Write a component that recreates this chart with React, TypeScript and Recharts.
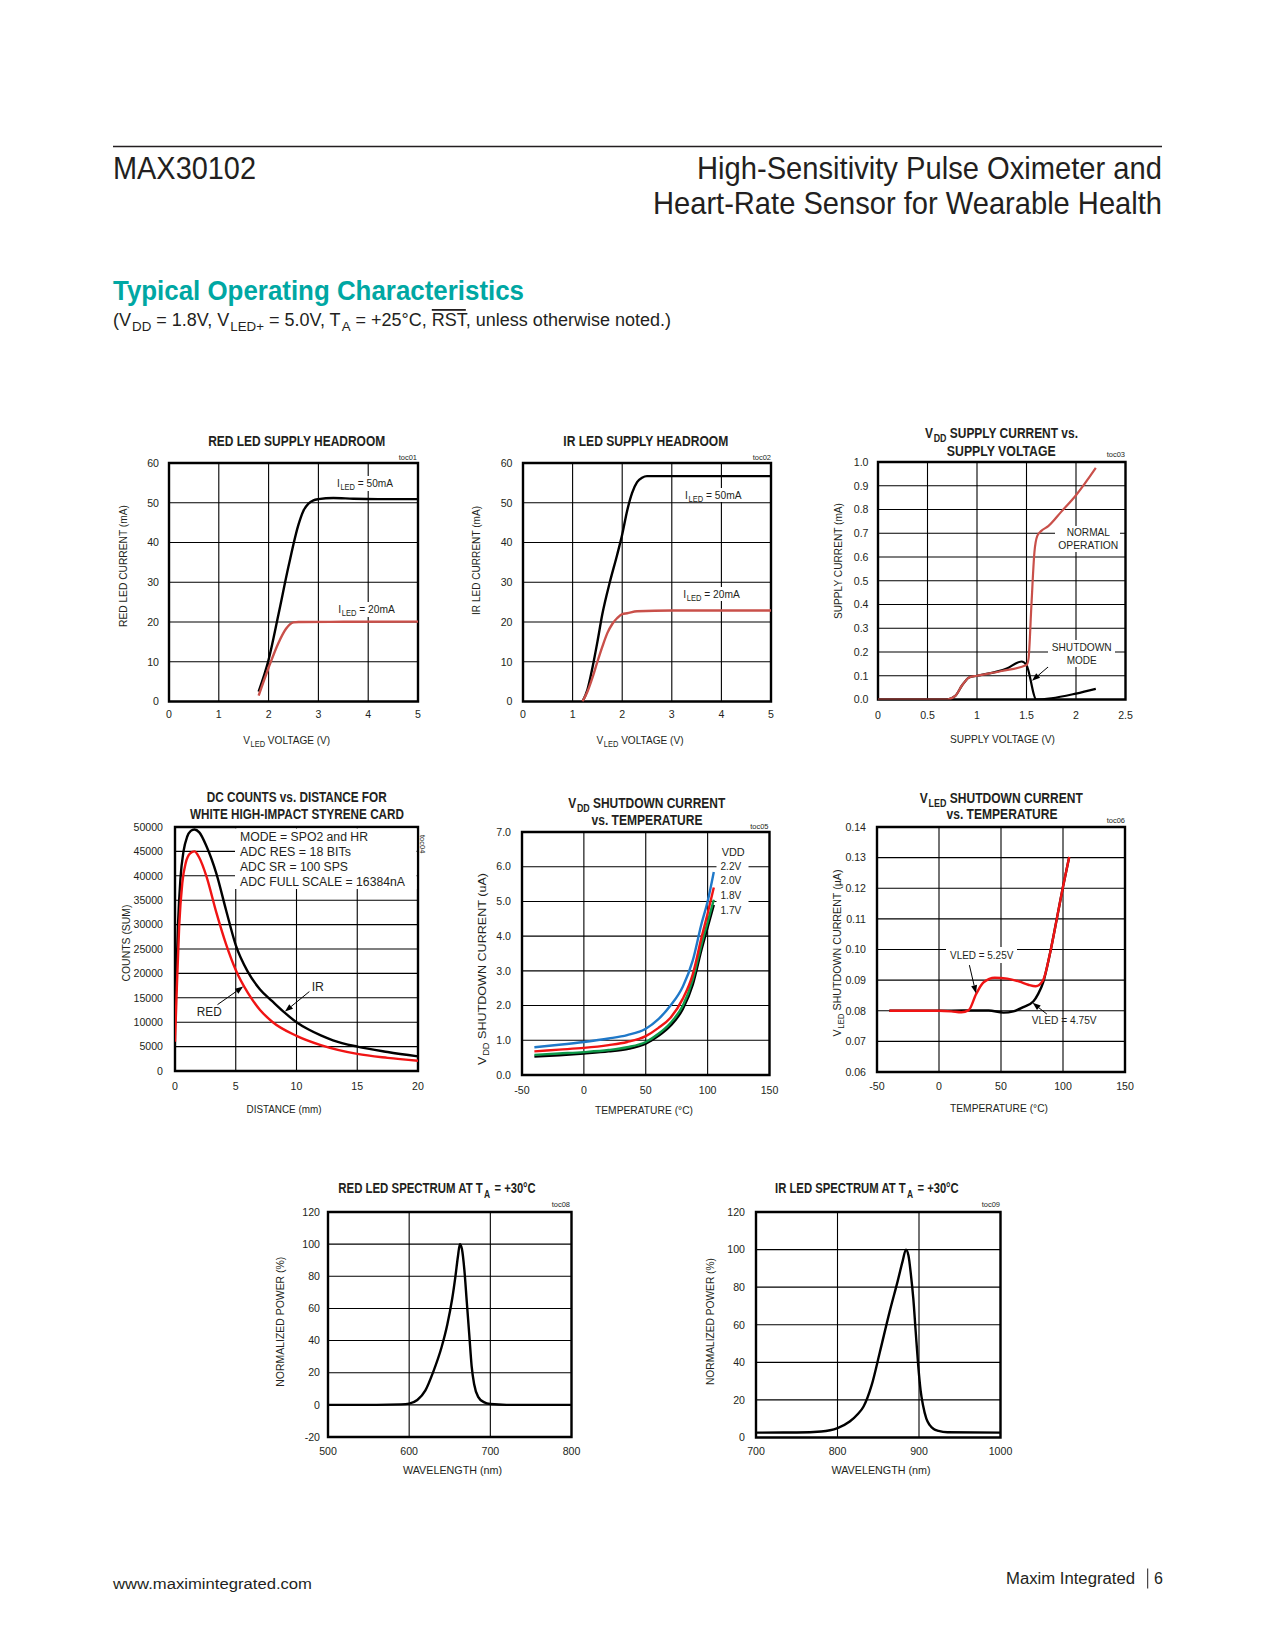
import React from 'react';
import { LineChart, Line, XAxis, YAxis, CartesianGrid, ReferenceArea, ReferenceLine } from 'recharts';

type P = [number, number];
type Box = { l: number; t: number; r: number; b: number };

const INK = '#231f20';
const FONT = '"Liberation Sans", Arial, Helvetica, sans-serif';
const TEAL = '#00a7a3';
const MUTED_RED = '#c9504a';
const RED = '#f01414';
const BLUE = '#1f78c8';
const GREEN = '#0f9a4a';

// toc01 / toc02 : LED supply headroom
const HEADROOM_X_TICKS = [0, 1, 2, 3, 4, 5];
const HEADROOM_Y_TICKS = [0, 10, 20, 30, 40, 50, 60];
const RED_HEADROOM_50MA: P[] = [
  [1.8, 2.5], [2.0, 10.5], [2.2, 22], [2.4, 34], [2.6, 44.5], [2.7, 48], [2.8, 49.8],
  [2.9, 50.6], [3.0, 50.9], [3.3, 51.2], [3.7, 51], [4.2, 50.9], [5, 50.9],
];
const RED_HEADROOM_20MA: P[] = [
  [1.8, 1.5], [2.0, 8.5], [2.2, 14.8], [2.35, 18.3], [2.5, 19.9], [2.6, 20], [3.5, 20.05], [5, 20.1],
];
const IR_HEADROOM_50MA: P[] = [
  [1.2, 0], [1.3, 3], [1.4, 8.5], [1.5, 15], [1.6, 22], [1.75, 30], [1.9, 37], [2.0, 42],
  [2.1, 48], [2.2, 52.5], [2.3, 55.2], [2.4, 56.3], [2.5, 56.7], [3.5, 56.7], [5, 56.7],
];
const IR_HEADROOM_20MA: P[] = [
  [1.2, 0], [1.3, 2.5], [1.4, 6], [1.5, 10], [1.6, 13.8], [1.7, 17.2], [1.8, 19.5], [1.9, 21],
  [2.0, 22], [2.1, 22.2], [2.3, 22.7], [3, 22.9], [5, 22.9],
];

// toc03 : VDD supply current vs supply voltage
const SUPPLY_X_TICKS = [0, 0.5, 1, 1.5, 2, 2.5];
const SUPPLY_Y_TICKS = [0, 0.1, 0.2, 0.3, 0.4, 0.5, 0.6, 0.7, 0.8, 0.9, 1.0];
const SUPPLY_NORMAL: P[] = [
  [0, 0], [0.7, 0], [0.78, 0.015], [0.85, 0.06], [0.92, 0.093], [1.0, 0.1], [1.25, 0.12],
  [1.5, 0.145], [1.52, 0.17], [1.55, 0.4], [1.58, 0.62], [1.61, 0.69], [1.65, 0.71],
  [1.72, 0.73], [1.85, 0.79], [2.0, 0.86], [2.2, 0.975],
];
const SUPPLY_SHUTDOWN: P[] = [
  [0, 0], [0.7, 0], [0.78, 0.015], [0.85, 0.06], [0.92, 0.093], [1.0, 0.1], [1.3, 0.13],
  [1.45, 0.16], [1.5, 0.145], [1.6, 0.0], [1.75, 0.005], [2.0, 0.025], [2.2, 0.045],
];
const SUPPLY_SHUTDOWN_ARROW: [P, P] = [[1.81, 0.17], [1.556, 0.079]];

// toc04 : DC counts vs distance
const DIST_X_TICKS = [0, 5, 10, 15, 20];
const DIST_Y_TICKS = [0, 5000, 10000, 15000, 20000, 25000, 30000, 35000, 40000, 45000, 50000];
const COUNTS_IR: P[] = [
  [0, 10000], [0.1, 18000], [0.25, 30000], [0.45, 39500], [0.7, 45000], [1.0, 48000],
  [1.3, 49200], [1.6, 49500], [2.0, 48900], [2.6, 46000], [3.4, 40500], [4.2, 33000],
  [5, 25800], [6, 20300], [7, 16700], [8, 14300], [9, 12000], [10, 10000], [11, 8500],
  [12, 7300], [13, 6300], [15, 5000], [17.5, 3900], [20, 3000],
];
const COUNTS_RED: P[] = [
  [0, 6000], [0.15, 17000], [0.35, 30000], [0.6, 38500], [0.9, 42800], [1.25, 44600],
  [1.6, 45000], [2.0, 43700], [2.6, 39800], [3.4, 32500], [4.2, 26000], [5, 20700],
  [6, 16000], [7, 12500], [8, 10100], [10, 7200], [12, 5300], [15, 3500], [17.5, 2700], [20, 2100],
];
const COUNTS_RED_ARROW: [P, P] = [[3.5, 13600], [5.61, 17300]];
const COUNTS_IR_ARROW: [P, P] = [[11.06, 16280], [9.05, 12175]];
const COUNTS_NOTES = ['MODE = SPO2 and HR', 'ADC RES = 18 BITs', 'ADC SR = 100 SPS', 'ADC FULL SCALE = 16384nA'];

// toc05 : VDD shutdown current vs temperature
const TEMP_X_TICKS = [-50, 0, 50, 100, 150];
const VDD_SHDN_Y_TICKS = [0, 1, 2, 3, 4, 5, 6, 7];
const VDD_LEGEND = ['2.2V', '2.0V', '1.8V', '1.7V'];
const VDD_SHDN_22: P[] = [
  [-40, 0.8], [-20, 0.87], [0, 0.95], [20, 1.05], [35, 1.15], [50, 1.33], [60, 1.6],
  [70, 2.0], [80, 2.55], [88, 3.3], [95, 4.35], [100, 5.0], [105, 5.85],
];
const VDD_SHDN_20: P[] = [
  [-40, 0.68], [-20, 0.73], [0, 0.78], [20, 0.86], [35, 0.95], [50, 1.12], [60, 1.35],
  [70, 1.65], [80, 2.2], [88, 2.9], [95, 3.95], [100, 4.65], [105, 5.4],
];
const VDD_SHDN_18: P[] = [
  [-40, 0.58], [-20, 0.62], [0, 0.66], [20, 0.72], [35, 0.8], [50, 0.95], [60, 1.18],
  [70, 1.5], [80, 2.0], [88, 2.75], [95, 3.75], [100, 4.4], [105, 5.05],
];
const VDD_SHDN_17: P[] = [
  [-40, 0.53], [-20, 0.57], [0, 0.62], [20, 0.68], [35, 0.75], [50, 0.9], [60, 1.12],
  [70, 1.42], [80, 1.9], [88, 2.6], [95, 3.6], [100, 4.25], [105, 4.9],
];

// toc06 : VLED shutdown current vs temperature
const VLED_SHDN_Y_TICKS = [0.06, 0.07, 0.08, 0.09, 0.1, 0.11, 0.12, 0.13, 0.14];
const VLED_SHDN_475: P[] = [
  [-40, 0.08], [0, 0.08], [20, 0.0801], [40, 0.0801], [52, 0.0794], [60, 0.0798],
  [68, 0.0812], [76, 0.083], [80, 0.0855], [84, 0.0893], [89.5, 0.0987], [95, 0.11],
  [100, 0.1205], [105, 0.1302],
];
const VLED_SHDN_525: P[] = [
  [-40, 0.08], [0, 0.08], [10, 0.0798], [18, 0.0795], [24, 0.0802], [30, 0.0855],
  [36, 0.0893], [45, 0.0908], [55, 0.0905], [65, 0.0895], [72, 0.0885], [78, 0.088],
  [84, 0.09], [89.5, 0.0987], [95, 0.11], [100, 0.1205], [105, 0.1302],
];
const VLED_525_ARROW: [P, P] = [[24.5, 0.0949], [29.8, 0.0857]];
const VLED_475_ARROW: [P, P] = [[87, 0.0789], [75.5, 0.0826]];

// toc08 / toc09 : LED spectra
const RED_SPEC_X_TICKS = [500, 600, 700, 800];
const RED_SPEC_Y_TICKS = [-20, 0, 20, 40, 60, 80, 100, 120];
const RED_SPECTRUM: P[] = [
  [500, 0], [560, 0], [590, 0.3], [600, 0.8], [610, 3], [620, 9], [630, 21], [640, 36],
  [647, 50], [653, 66], [657, 80], [660, 92], [662.5, 100], [665, 97], [668, 84], [671, 64],
  [674, 44], [677, 24], [680, 13], [685, 5], [692, 1.7], [700, 0.5], [720, 0], [800, 0],
];
const IR_SPEC_X_TICKS = [700, 800, 900, 1000];
const IR_SPEC_Y_TICKS = [0, 20, 40, 60, 80, 100, 120];
const IR_SPECTRUM: P[] = [
  [700, 2.6], [750, 2.7], [780, 3.2], [800, 5], [815, 8.5], [825, 12.5], [832, 16.5],
  [842, 28], [852, 45.5], [864, 67], [874, 83.5], [880, 94], [884, 100], [887, 97],
  [890, 87], [893, 74], [896, 56], [899, 38.5], [902, 25], [905, 17], [909, 10],
  [913, 6.7], [918, 4.5], [924, 3.5], [935, 2.8], [1000, 2.6],
];

const PL = 60, PT = 20, PR = 20, PB = 24;
const TICK = { fontSize: 10.6, fill: INK, fontFamily: FONT };
const xy = (p: P[]) => p.map(([x, y]) => ({ x, y }));
const f1 = (v: number) => v.toFixed(1);
const f2 = (v: number) => v.toFixed(2);

const Arrow = (p: any) => {
  const { x1, y1, x2, y2 } = p;
  const a = Math.atan2(y2 - y1, x2 - x1);
  const L = 8, W = 3;
  const bx = x2 - L * Math.cos(a), by = y2 - L * Math.sin(a);
  const nx = -Math.sin(a) * W, ny = Math.cos(a) * W;
  return (
    <g>
      <line x1={x1} y1={y1} x2={bx} y2={by} stroke="#000" strokeWidth={1} />
      <polygon points={`${x2},${y2} ${bx + nx},${by + ny} ${bx - nx},${by - ny}`} fill="#000" />
    </g>
  );
};

type Series = { data: P[]; color: string };
type PanelProps = {
  box: Box; xd: [number, number]; xt: number[]; yd: [number, number]; yt: number[];
  xf?: (v: number) => string; yf?: (v: number) => string; xm: number; ym: number;
  lines: Series[]; arrows?: [P, P][]; lw?: number;
};

function Panel({ box, xd, xt, yd, yt, xf, yf, xm, ym, lines, arrows = [], lw = 2.4 }: PanelProps) {
  const w = box.r - box.l + PL + PR;
  const h = box.b - box.t + PT + PB;
  return (
    <div style={{ position: 'absolute', left: box.l - PL, top: box.t - PT }}>
      <LineChart width={w} height={h} margin={{ top: PT, right: PR, bottom: 0, left: 0 }} style={{ overflow: 'visible' }}>
        <CartesianGrid stroke="#000" strokeWidth={1.1} />
        <XAxis type="number" dataKey="x" domain={xd} ticks={xt} interval={0} allowDataOverflow
          axisLine={false} tickLine={false} tickSize={0} tickMargin={xm} height={PB} tick={TICK} tickFormatter={xf} />
        <YAxis type="number" domain={yd} ticks={yt} interval={0} allowDataOverflow
          axisLine={false} tickLine={false} tickSize={0} tickMargin={ym} width={PL} tick={TICK} tickFormatter={yf} />
        {lines.map((s, i) => (
          <Line key={i} data={xy(s.data)} dataKey="y" type="monotone" dot={false} activeDot={false}
            stroke={s.color} strokeWidth={lw} isAnimationActive={false} />
        ))}
        <ReferenceArea x1={xd[0]} x2={xd[1]} y1={yd[0]} y2={yd[1]} fill="none" fillOpacity={0} stroke="#000" strokeWidth={2.4} />
        {arrows.map((a, i) => (
          <ReferenceLine key={i} segment={[{ x: a[0][0], y: a[0][1] }, { x: a[1][0], y: a[1][1] }]} shape={Arrow} ifOverflow="visible" />
        ))}
      </LineChart>
    </div>
  );
}

type TP = {
  x: number; y: number; s?: number; w?: number; a?: 'start' | 'middle' | 'end';
  b?: boolean; c?: string; r?: number; children: React.ReactNode;
};
function T({ x, y, s = 11, w, a = 'start', b, c = INK, r, children }: TP) {
  return (
    <text x={x} y={y} fontSize={s} fontWeight={b ? 700 : 400} textAnchor={a} fill={c}
      textLength={w} lengthAdjust={w ? 'spacingAndGlyphs' : undefined}
      transform={r ? `rotate(${r} ${x} ${y})` : undefined}>
      {children}
    </text>
  );
}
// condensed bold run drawn through a horizontal scale instead of textLength
function Squeezed({ x, y, s, sx, children }: { x: number; y: number; s: number; sx: number; children: string }) {
  return (
    <g transform={`translate(${x} ${y}) scale(${sx} 1)`}>
      <text x={0} y={0} fontSize={s} fontWeight={700} fill={INK}>{children}</text>
    </g>
  );
}
// subscript followed by the rest of the line
function Sub({ t, rest, s }: { t: string; rest: string; s: number }) {
  const d = s * 0.3;
  return (
    <>
      <tspan fontSize={s * 0.74} dy={d} dx={s * 0.06}>{t}</tspan>
      <tspan dy={-d}>{rest}</tspan>
    </>
  );
}
const WhiteBox = ({ x, y, w, h }: { x: number; y: number; w: number; h: number }) => (
  <rect x={x} y={y} width={w} height={h} fill="#fff" />
);

const B1: Box = { l: 169, t: 463, r: 418, b: 701.5 };
const B2: Box = { l: 523, t: 463, r: 771, b: 701.5 };
const B3: Box = { l: 877.5, t: 461.5, r: 1125, b: 699 };
const B4: Box = { l: 175, t: 827, r: 418, b: 1071 };
const B5: Box = { l: 522, t: 832, r: 769.5, b: 1075 };
const B6: Box = { l: 877, t: 827, r: 1125, b: 1072 };
const B8: Box = { l: 327.5, t: 1212, r: 571, b: 1437 };
const B9: Box = { l: 756, t: 1212, r: 1000.5, b: 1437.5 };

export default function App() {
  return (
    <div style={{ position: 'absolute', left: 0, top: 0, width: 1275, height: 1650, background: '#fff', fontFamily: FONT }}>
      <Panel box={B1} xd={[0, 5]} xt={HEADROOM_X_TICKS} yd={[0, 60]} yt={HEADROOM_Y_TICKS} xm={9} ym={10}
        lines={[{ data: RED_HEADROOM_50MA, color: '#000' }, { data: RED_HEADROOM_20MA, color: MUTED_RED }]} />
      <Panel box={B2} xd={[0, 5]} xt={HEADROOM_X_TICKS} yd={[0, 60]} yt={HEADROOM_Y_TICKS} xm={9} ym={10.5}
        lines={[{ data: IR_HEADROOM_50MA, color: '#000' }, { data: IR_HEADROOM_20MA, color: MUTED_RED }]} />
      <Panel box={B3} xd={[0, 2.5]} xt={SUPPLY_X_TICKS} yd={[0, 1]} yt={SUPPLY_Y_TICKS} yf={f1} xm={12} ym={9.5} lw={2.2}
        lines={[{ data: SUPPLY_SHUTDOWN, color: '#000' }, { data: SUPPLY_NORMAL, color: MUTED_RED }]}
        arrows={[SUPPLY_SHUTDOWN_ARROW]} />
      <Panel box={B4} xd={[0, 20]} xt={DIST_X_TICKS} yd={[0, 50000]} yt={DIST_Y_TICKS} xm={11.5} ym={12}
        lines={[{ data: COUNTS_IR, color: '#000' }, { data: COUNTS_RED, color: RED }]}
        arrows={[COUNTS_RED_ARROW, COUNTS_IR_ARROW]} />
      <Panel box={B5} xd={[-50, 150]} xt={TEMP_X_TICKS} yd={[0, 7]} yt={VDD_SHDN_Y_TICKS} yf={f1} xm={11} ym={11}
        lines={[
          { data: VDD_SHDN_17, color: '#000' }, { data: VDD_SHDN_18, color: GREEN },
          { data: VDD_SHDN_20, color: RED }, { data: VDD_SHDN_22, color: BLUE },
        ]} />
      <Panel box={B6} xd={[-50, 150]} xt={TEMP_X_TICKS} yd={[0.06, 0.14]} yt={VLED_SHDN_Y_TICKS} yf={f2} xm={10.5} ym={11}
        lines={[{ data: VLED_SHDN_475, color: '#000' }, { data: VLED_SHDN_525, color: RED }]}
        arrows={[VLED_525_ARROW, VLED_475_ARROW]} />
      <Panel box={B8} xd={[500, 800]} xt={RED_SPEC_X_TICKS} yd={[-20, 120]} yt={RED_SPEC_Y_TICKS} xm={10} ym={8}
        lines={[{ data: RED_SPECTRUM, color: '#000' }]} />
      <Panel box={B9} xd={[700, 1000]} xt={IR_SPEC_X_TICKS} yd={[0, 120]} yt={IR_SPEC_Y_TICKS} xm={10} ym={11}
        lines={[{ data: IR_SPECTRUM, color: '#000' }]} />

      <svg width={1275} height={1650} style={{ position: 'absolute', left: 0, top: 0, pointerEvents: 'none', fontFamily: FONT }}>
        {/* page header */}
        <line x1={113} y1={146.5} x2={1162} y2={146.5} stroke={INK} strokeWidth={1.6} />
        <T x={113} y={179} s={32} w={143}>MAX30102</T>
        <T x={1162} y={179} s={32} w={465} a="end">High-Sensitivity Pulse Oximeter and</T>
        <T x={1162} y={213.5} s={32} w={509} a="end">Heart-Rate Sensor for Wearable Health</T>
        <T x={113} y={300} s={27} w={411} b c={TEAL}>Typical Operating Characteristics</T>
        <text x={113} y={326} fontSize={18} fill={INK} textLength={558} lengthAdjust="spacingAndGlyphs">
          (V<Sub s={18} t="DD" rest=" = 1.8V, V" />
          <Sub s={18} t="LED+" rest=" = 5.0V, T" />
          <Sub s={18} t="A" rest=" = +25°C, " />
          <tspan style={{ textDecoration: 'overline' }}>RST</tspan>, unless otherwise noted.)
        </text>

        {/* toc01 */}
        <T x={296.7} y={446} s={14} w={177} a="middle" b>RED LED SUPPLY HEADROOM</T>
        <T x={417} y={459.5} s={7.5} a="end">toc01</T>
        <T x={286.7} y={744} s={11.5} w={87} a="middle">V<Sub s={11.5} t="LED" rest=" VOLTAGE (V)" /></T>
        <T x={126.7} y={566} s={11.5} w={122} a="middle" r={-90}>RED LED CURRENT (mA)</T>
        <WhiteBox x={335} y={476} w={60} h={15} />
        <T x={337} y={487} s={11} w={56}>I<Sub s={11} t="LED" rest=" = 50mA" /></T>
        <WhiteBox x={336} y={602} w={61} h={15} />
        <T x={338.3} y={613} s={11} w={56.5}>I<Sub s={11} t="LED" rest=" = 20mA" /></T>

        {/* toc02 */}
        <T x={645.8} y={446} s={14} w={165} a="middle" b>IR LED SUPPLY HEADROOM</T>
        <T x={771} y={459.5} s={7.5} a="end">toc02</T>
        <T x={640} y={744} s={11.5} w={87} a="middle">V<Sub s={11.5} t="LED" rest=" VOLTAGE (V)" /></T>
        <T x={480} y={560.5} s={11.5} w={109} a="middle" r={-90}>IR LED CURRENT (mA)</T>
        <WhiteBox x={683} y={488} w={61} h={14} />
        <T x={685} y={499} s={11} w={56.5}>I<Sub s={11} t="LED" rest=" = 50mA" /></T>
        <WhiteBox x={681} y={587} w={61} h={14} />
        <T x={683.3} y={598} s={11} w={56.5}>I<Sub s={11} t="LED" rest=" = 20mA" /></T>

        {/* toc03 */}
        <T x={1001.5} y={438} s={14} w={153} a="middle" b>V<Sub s={14} t="DD" rest=" SUPPLY CURRENT vs." /></T>
        <T x={1001.3} y={456} s={14} w={109} a="middle" b>SUPPLY VOLTAGE</T>
        <T x={1125} y={457} s={7.5} a="end">toc03</T>
        <T x={1002.5} y={742.5} s={11.5} w={105} a="middle">SUPPLY VOLTAGE (V)</T>
        <T x={841.7} y={561} s={11.5} w={116} a="middle" r={-90}>SUPPLY CURRENT (mA)</T>
        <WhiteBox x={1055} y={526} w={65} h={26} />
        <T x={1088.3} y={535.7} s={11} w={43.3} a="middle">NORMAL</T>
        <T x={1088.3} y={549} s={11} w={60} a="middle">OPERATION</T>
        <WhiteBox x={1048} y={640} w={67} h={27} />
        <T x={1081.7} y={650.7} s={11} w={60} a="middle">SHUTDOWN</T>
        <T x={1081.7} y={664} s={11} w={30} a="middle">MODE</T>

        {/* toc04 */}
        <T x={296.7} y={801.5} s={14} w={180} a="middle" b>DC COUNTS vs. DISTANCE FOR</T>
        <T x={297} y={819.3} s={14} w={214} a="middle" b>WHITE HIGH-IMPACT STYRENE CARD</T>
        <T x={419.5} y={835} s={7.5} r={90}>toc04</T>
        <T x={284} y={1112.5} s={11.5} w={75} a="middle">DISTANCE (mm)</T>
        <T x={129.7} y={943} s={11.5} w={77} a="middle" r={-90}>COUNTS (SUM)</T>
        <WhiteBox x={235} y={828.5} w={181.5} h={60.5} />
        <T x={240} y={841} s={12.5} w={128}>{COUNTS_NOTES[0]}</T>
        <T x={240} y={856} s={12.5} w={111}>{COUNTS_NOTES[1]}</T>
        <T x={240} y={871} s={12.5} w={108}>{COUNTS_NOTES[2]}</T>
        <T x={240} y={885.5} s={12.5} w={165}>{COUNTS_NOTES[3]}</T>
        <T x={196.7} y={1015.5} s={12.5} w={25}>RED</T>
        <T x={311.7} y={991} s={12.5} w={12.3}>IR</T>

        {/* toc05 */}
        <T x={646.7} y={808} s={14} w={157} a="middle" b>V<Sub s={14} t="DD" rest=" SHUTDOWN CURRENT" /></T>
        <T x={647} y={825} s={14} w={111} a="middle" b>vs. TEMPERATURE</T>
        <T x={768.5} y={829} s={7.5} a="end">toc05</T>
        <T x={644} y={1114} s={11.5} w={98} a="middle">TEMPERATURE (°C)</T>
        <T x={485.7} y={969} s={11.5} w={192} a="middle" r={-90}>V<Sub s={11.5} t="DD" rest=" SHUTDOWN CURRENT (uA)" /></T>
        <WhiteBox x={716.5} y={843} w={32} h={74} />
        <T x={721.7} y={855.5} s={11.5} w={23}>VDD</T>
        {VDD_LEGEND.map((v, i) => (
          <T key={v} x={720.5} y={869.5 + i * 14.9} s={11.5} w={20.7}>{v}</T>
        ))}

        {/* toc06 */}
        <T x={1001.3} y={803} s={14} w={163} a="middle" b>V<Sub s={14} t="LED" rest=" SHUTDOWN CURRENT" /></T>
        <T x={1002} y={819.3} s={14} w={111} a="middle" b>vs. TEMPERATURE</T>
        <T x={1125} y={822.5} s={7.5} a="end">toc06</T>
        <T x={999} y={1112} s={11.5} w={98} a="middle">TEMPERATURE (°C)</T>
        <T x={840.7} y={953} s={11.5} w={167} a="middle" r={-90}>V<Sub s={11.5} t="LED" rest=" SHUTDOWN CURRENT (µA)" /></T>
        <WhiteBox x={946} y={947} w={71} h={16} />
        <T x={950} y={959} s={11} w={63.3}>VLED = 5.25V</T>
        <T x={1031.7} y={1024} s={11} w={65}>VLED = 4.75V</T>

        {/* toc08 : title in three runs (base, subscript, rest) */}
        <Squeezed x={338.3} y={1193.3} s={14} sx={0.815}>RED LED SPECTRUM AT T</Squeezed>
        <Squeezed x={484} y={1197.5} s={10.4} sx={0.815}>A</Squeezed>
        <Squeezed x={494.5} y={1193.3} s={14} sx={0.8}>{'= +30°C'}</Squeezed>
        <T x={570} y={1207} s={7.5} a="end">toc08</T>
        <T x={452.5} y={1474} s={11.5} w={99} a="middle">WAVELENGTH (nm)</T>
        <T x={284} y={1321.7} s={11.5} w={130} a="middle" r={-90}>NORMALIZED POWER (%)</T>

        {/* toc09 */}
        <Squeezed x={775} y={1193.3} s={14} sx={0.809}>IR LED SPECTRUM AT T</Squeezed>
        <Squeezed x={907} y={1197.5} s={10.4} sx={0.809}>A</Squeezed>
        <Squeezed x={917.5} y={1193.3} s={14} sx={0.8}>{'= +30°C'}</Squeezed>
        <T x={1000} y={1207} s={7.5} a="end">toc09</T>
        <T x={881} y={1474} s={11.5} w={99} a="middle">WAVELENGTH (nm)</T>
        <T x={714} y={1321.5} s={11.5} w={127} a="middle" r={-90}>NORMALIZED POWER (%)</T>

        {/* footer */}
        <T x={113} y={1588.5} s={15.5} w={199}>www.maximintegrated.com</T>
        <T x={1135} y={1584} s={16} w={129} a="end">Maxim Integrated</T>
        <line x1={1147.7} y1={1568.5} x2={1147.7} y2={1588.5} stroke={INK} strokeWidth={1} />
        <T x={1154} y={1584} s={16}>6</T>
      </svg>
    </div>
  );
}
